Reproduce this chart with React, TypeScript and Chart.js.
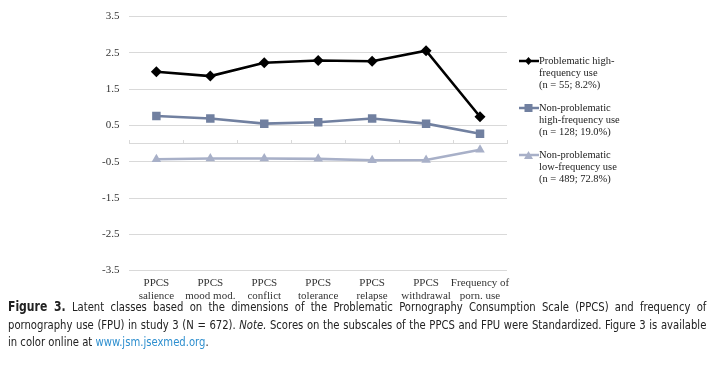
import React, { useEffect, useRef } from "react";
import { Chart, registerables } from "chart.js";

Chart.register(...registerables);

const categories: string[][] = [
  ["PPCS", "salience"],
  ["PPCS", "mood mod."],
  ["PPCS", "conflict"],
  ["PPCS", "tolerance"],
  ["PPCS", "relapse"],
  ["PPCS", "withdrawal"],
  ["Frequency of", "porn. use"],
];

const problematicHigh = [1.98, 1.86, 2.23, 2.29, 2.27, 2.56, 0.74];
const nonProblematicHigh = [0.76, 0.69, 0.55, 0.59, 0.69, 0.55, 0.27];
const nonProblematicLow = [-0.43, -0.41, -0.41, -0.42, -0.46, -0.45, -0.17];

const yMin = -3.5;
const yMax = 3.5;
const yStep = 1;

const legendItems = [
  { lines: ["Problematic high-", "frequency use", "(n = 55; 8.2%)"], color: "#000000", shape: "diamond" },
  { lines: ["Non-problematic", "high-frequency use", "(n = 128; 19.0%)"], color: "#7180a0", shape: "square" },
  { lines: ["Non-problematic", "low-frequency use", "(n = 489; 72.8%)"], color: "#a8b0c8", shape: "triangle" },
];

const SERIF = "'Liberation Serif', 'Times New Roman', serif";
const GRID = "#d9d9d9";

function Marker({ color, shape }: { color: string; shape: string }) {
  let m: React.ReactNode = null;
  if (shape === "diamond") m = <polygon points="9.5,2 13,6 9.5,10 6,6" fill={color} />;
  else if (shape === "square") m = <rect x="5.5" y="2" width="8" height="8" fill={color} />;
  else m = <polygon points="9.5,2 14,10 5,10" fill={color} />;
  return (
    <svg width="20" height="12" style={{ position: "absolute", left: 0, top: 0 }}>
      <line x1="0" y1="6" x2="20" y2="6" stroke={color} strokeWidth="2.5" />
      {m}
    </svg>
  );
}

export default function App() {
  const ref = useRef<HTMLCanvasElement | null>(null);

  useEffect(() => {
    if (!ref.current) return;
    const mk = (label: string, data: number[], color: string, style: any, radius: number) => ({
      label,
      data,
      borderColor: color,
      backgroundColor: color,
      borderWidth: 2.6,
      pointStyle: style,
      pointRadius: radius,
      pointBorderWidth: 0,
      pointBackgroundColor: color,
      tension: 0,
      xAxisID: "x",
      yAxisID: "y",
    });
    const chart = new Chart(ref.current, {
      type: "line",
      data: {
        labels: categories,
        datasets: [
          mk("Problematic high-frequency use", problematicHigh, "#000000", "rectRot", 5.5),
          mk("Non-problematic high-frequency use", nonProblematicHigh, "#7180a0", "rect", 6),
          mk("Non-problematic low-frequency use", nonProblematicLow, "#a8b0c8", "triangle", 5.5),
        ],
      },
      options: {
        responsive: false,
        animation: false,
        layout: { padding: { left: 92, right: 209, top: 16, bottom: 3 } },
        plugins: { legend: { display: false }, tooltip: { enabled: false } },
        scales: {
          x: {
            type: "category",
            position: "bottom",
            offset: true,
            grid: { display: false, drawTicks: false },
            border: { display: false },
            ticks: {
              font: { family: SERIF, size: 11 },
              color: "#333333",
              padding: 6,
              maxRotation: 0,
              autoSkip: false,
            },
          },
          x2: {
            type: "category",
            position: { y: 0 } as any,
            offset: true,
            grid: { offset: true, drawOnChartArea: false, drawTicks: true, tickLength: -4, color: GRID },
            border: { display: true, color: GRID, width: 1 },
            ticks: { display: false },
          },
          y: {
            type: "linear",
            min: yMin,
            max: yMax,
            ticks: {
              stepSize: yStep,
              font: { family: SERIF, size: 11 },
              color: "#333333",
              padding: 10,
              callback: (v: any) => Number(v).toFixed(1),
            },
            grid: { color: GRID, drawTicks: false, lineWidth: 1 },
            border: { display: false },
          },
        },
      },
    } as any);
    return () => chart.destroy();
  }, []);

  return (
    <div style={{ position: "absolute", left: 0, top: 0, width: 716, height: 365, background: "#fff" }}>
      <canvas ref={ref} width={716} height={312} style={{ position: "absolute", left: 0, top: 0, width: 716, height: 312 }} />
      {legendItems.map((it, i) => (
        <div
          key={i}
          style={{
            position: "absolute",
            left: 519,
            top: 55 + i * 47,
            fontFamily: SERIF,
            fontSize: 10.5,
            lineHeight: "12px",
            color: "#222",
          }}
        >
          <Marker color={it.color} shape={it.shape} />
          <div style={{ marginLeft: 20 }}>
            {it.lines.map((l, j) => (
              <div key={j}>{l}</div>
            ))}
          </div>
        </div>
      ))}
      <div
        style={{
          position: "absolute",
          left: 8,
          top: 298,
          width: 812,
          transform: "scaleX(0.86)",
          transformOrigin: "0 0",
          fontFamily: "'Liberation Sans Narrow', 'DejaVu Sans Condensed', 'Open Sans', sans-serif",
          fontSize: 13,
          lineHeight: "17.5px",
          color: "#222",
          textAlign: "justify",
        }}
      >
        <span style={{ fontWeight: "bold", fontSize: 14 }}>Figure 3.</span> Latent classes based on the dimensions of
        the Problematic Pornography Consumption Scale (PPCS) and frequency of pornography use (FPU) in study 3 (N = 672).{" "}
        <i>Note.</i> Scores on the subscales of the PPCS and FPU were Standardized. Figure 3 is available in color online
        at <span style={{ color: "#2e8fcf" }}>www.jsm.jsexmed.org</span>.
      </div>
    </div>
  );
}
